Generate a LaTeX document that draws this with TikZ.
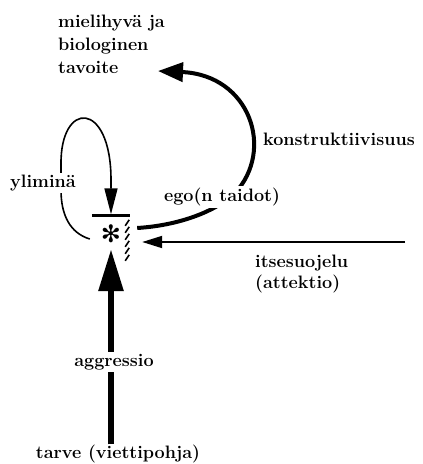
\documentclass[tikz,border=0pt]{standalone}
\usepackage{fontspec}
\newfontfamily\symfont{DejaVu Sans}
\usetikzlibrary{arrows.meta, positioning, calc}

\begin{document}
\begin{tikzpicture}[
    x=1pt, y=-1pt,
    lbl/.style={font=\fontsize{18}{23}\selectfont\bfseries, inner sep=0pt},
    gaplbl/.style={lbl, fill=white, inner sep=2pt},
    thinarrow/.style={-{Triangle[length=20pt, width=12pt]}, line width=1.8pt},
    looparrow/.style={-{Triangle[length=26pt, width=13pt]}, line width=1.6pt},
    thickarrow/.style={-{Triangle[length=25pt, width=19pt]}, line width=4pt},
    heavyarrow/.style={-{Triangle[length=42pt, width=24pt]}, line width=6pt},
    hatch/.style={line width=1.6pt},
]
\useasboundingbox (0,0) rectangle (423,464);

% ego: bar, hatched side and the asterisk
\node[minimum width=38pt, minimum height=46pt, inner sep=0pt] (ego) at (111,239) {};
\draw[line width=3pt] (ego.north west) -- (ego.north east);
\foreach \y in {4,11,...,39}
  \draw[hatch] ($(ego.north east)+(-5,\y+6)$) -- ++(4,-6);
\node[font=\fontsize{24}{24}\symfont, inner sep=0pt] (drive) at (111,234) {✻};

% texts
\node[lbl, align=left, anchor=north west] (goal) at (58,14.5) {mielihyv\"a ja\\biologinen\\tavoite};
\coordinate (goalin) at (158,71);
\node[lbl, anchor=base] (need) at (118,458) {tarve (viettipohja)};
\coordinate (guard) at (405,242);

% aggressio
\draw[heavyarrow] (need.north -| drive) -- node[gaplbl, pos=0.42, xshift=3pt] (aggr) {aggressio} ([yshift=13pt]ego.south);

% itsesuojelu
\draw[thinarrow] (guard) -- ($(guard -| ego.east)+(12,0)$);
\node[lbl, align=left, anchor=north west, font=\fontsize{18}{21}\selectfont\bfseries] (protect) at (255,255) {itsesuojelu\\(attektio)};

% yliminä
\draw[looparrow] ([xshift=-2pt]ego.west) .. controls (70,233) and (61,215) .. (61,190)
  -- (61,165) .. controls (60,100) and (111,100) .. (111,180) -- ([yshift=1.5pt]ego.north);
\node[gaplbl, anchor=base] (superego) at (43,187) {ylimin\"a};

% ego(n taidot) -> tavoite
\draw[thickarrow] ($(ego.east)+(7,-11)$) .. controls (185,225) and (220,208) .. (235,193)
  .. controls (275,150) and (250,75) .. (goalin);
\node[gaplbl, inner sep=1.5pt] (skill) at (222,197) {ego(n taidot)};
\node[lbl, anchor=base west] (build) at (263,145) {konstruktiivisuus};

\end{tikzpicture}
\end{document}
